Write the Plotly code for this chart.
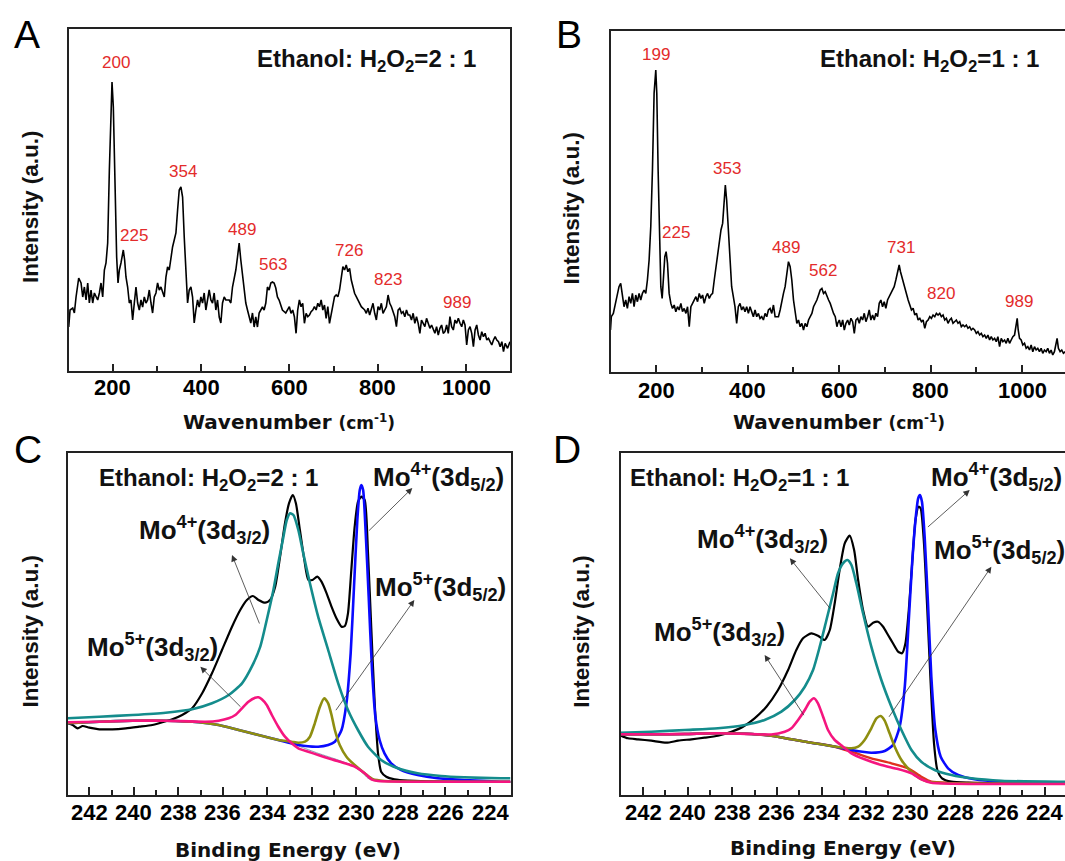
import plotly.graph_objects as go

W, H = 1065, 861

# ---------------- Raman spectra (wavenumber cm-1, intensity a.u.) ----------------
raman_a = [
    (100.5, 44), (103.5, 61), (109.6, 63), (113.3, 58), (117.1, 74), (123.1, 93), (128.4, 88), (132.2, 74),
    (135.9, 84), (139.7, 71), (143.5, 88), (147.2, 68), (151.0, 81), (154.8, 68), (158.6, 78), (162.3, 74),
    (166.1, 71), (169.9, 78), (173.6, 88), (177.4, 74), (181.2, 101), (184.9, 108), (188.7, 128), (192.5, 201),
    (196.2, 268), (198.5, 289), (201.5, 264), (205.3, 184), (209.0, 114), (212.1, 88), (215.1, 101), (218.8, 108),
    (224.1, 121), (227.1, 111), (230.1, 94), (233.9, 84), (237.7, 68), (241.4, 71), (245.2, 51), (249.0, 68),
    (252.8, 84), (256.5, 68), (260.3, 61), (264.1, 71), (267.8, 64), (271.6, 74), (275.4, 68), (279.1, 71),
    (282.9, 81), (286.7, 68), (290.4, 58), (294.2, 74), (298.0, 78), (301.7, 88), (305.5, 81), (309.3, 84),
    (313.0, 78), (316.8, 74), (320.6, 94), (324.3, 104), (328.1, 101), (331.9, 114), (335.6, 124), (339.4, 131),
    (343.2, 138), (347.0, 161), (350.7, 181), (354.5, 184), (358.3, 174), (362.0, 134), (365.8, 94), (369.6, 68),
    (373.3, 81), (377.1, 84), (380.9, 74), (384.6, 48), (388.4, 61), (392.2, 71), (395.9, 64), (399.7, 74),
    (403.5, 68), (407.2, 78), (411.0, 61), (414.8, 74), (418.5, 81), (422.3, 71), (426.1, 68), (429.8, 78),
    (433.6, 61), (437.4, 71), (441.2, 54), (444.9, 48), (448.7, 68), (452.5, 74), (456.2, 71), (463.8, 71),
    (467.5, 68), (471.3, 84), (475.1, 91), (478.8, 101), (482.6, 114), (486.4, 128), (490.1, 111), (493.9, 94),
    (497.7, 81), (501.4, 68), (505.2, 61), (509.0, 54), (512.7, 48), (516.5, 58), (520.3, 44), (524.0, 54),
    (527.8, 44), (531.6, 58), (535.4, 61), (539.1, 64), (542.9, 61), (546.7, 68), (550.4, 84), (554.2, 81),
    (558.0, 88), (561.7, 89), (565.5, 88), (569.3, 83), (573.0, 74), (576.8, 71), (584.3, 61), (591.9, 58),
    (600.0, 64.3), (603.8, 57.7), (607.6, 61), (611.4, 54.3), (615.2, 37.7), (618.9, 61), (622.7, 71), (626.5, 64.3),
    (630.3, 67.7), (634.1, 47.7), (637.9, 57.7), (641.7, 54.3), (645.5, 56), (649.2, 59.3), (653.0, 61), (656.8, 64.3),
    (660.6, 61), (664.4, 67.7), (668.2, 64.3), (672.0, 71), (675.8, 61), (679.5, 66), (683.3, 52.7), (687.1, 64.3),
    (690.9, 47.7), (694.7, 57.7), (698.5, 64.3), (702.3, 74.3), (706.1, 76), (709.8, 74.3), (713.6, 81), (717.4, 96),
    (721.2, 104.3), (725.0, 101), (728.8, 106), (732.6, 99.3), (736.4, 102.7), (740.2, 91), (743.9, 84.3), (747.7, 77.7),
    (751.5, 74.3), (755.3, 71), (759.1, 67.7), (762.9, 64.3), (766.7, 62.7), (770.5, 61), (774.2, 57.7), (778.0, 62.7),
    (781.8, 56), (785.6, 61), (789.4, 67.7), (793.2, 57.7), (797.0, 51), (800.8, 64.3), (804.5, 61), (808.3, 67.7),
    (812.1, 57.7), (815.9, 61), (819.7, 64.3), (823.5, 76), (827.3, 67.7), (831.1, 64.3), (834.9, 57.7), (838.6, 54.3),
    (842.4, 44.3), (846.2, 61), (850.0, 62.7), (853.8, 57.7), (857.6, 59.3), (861.4, 54.3), (865.2, 61), (868.9, 56),
    (872.7, 56), (876.5, 51), (880.3, 57.7), (884.1, 47.7), (887.9, 54.3), (891.7, 47.7), (895.5, 37.7), (899.2, 51),
    (903.0, 47.7), (906.8, 44.3), (910.6, 52.7), (914.4, 47.7), (918.2, 42.7), (922.0, 46), (925.8, 41), (929.5, 37.7),
    (933.3, 44.3), (937.1, 36), (940.9, 42.7), (944.7, 46), (948.5, 37.7), (952.3, 39.3), (956.1, 46), (959.8, 37.7),
    (963.6, 54.3), (967.4, 44.3), (971.2, 41), (975.0, 51), (978.8, 47.7), (982.6, 52.7), (986.4, 47.7), (990.2, 44.3),
    (993.9, 51), (997.7, 46), (1001.5, 26), (1005.3, 41), (1009.1, 44.3), (1012.9, 37.7), (1016.7, 24.3), (1020.5, 41),
    (1024.2, 46), (1028.0, 36), (1031.8, 31), (1035.6, 39.3), (1039.4, 34.3), (1043.2, 37.7), (1047.0, 31), (1050.8, 32.7),
    (1054.5, 29.3), (1058.3, 26), (1062.1, 31), (1065.9, 34.3), (1069.7, 31), (1073.5, 29.3), (1077.3, 24.3), (1081.1, 29.3),
    (1084.8, 19.3), (1088.6, 27.7), (1094.0, 22.7), (1099.5, 29.3),
]

raman_b = [
    (100.0, 41.7), (101.8, 55), (106.2, 58.3), (111.3, 68.3), (115.0, 78.3), (118.6, 85), (122.3, 88.3), (125.9, 78.3),
    (129.6, 65), (133.3, 71.7), (136.9, 63.3), (140.6, 75), (144.2, 68.3), (147.9, 78.3), (151.5, 65), (155.2, 76.7),
    (158.8, 70), (162.5, 78.3), (166.1, 71.7), (169.8, 78.3), (173.4, 81.7), (177.1, 78.3), (180.7, 91.7), (184.4, 111.7),
    (188.0, 145), (191.7, 201.7), (195.3, 278.3), (199.0, 301.7), (201.2, 278.3), (204.1, 201.7), (207.0, 128.3), (210.0, 85),
    (212.9, 73.3), (215.8, 98.3), (218.7, 115), (221.6, 120), (224.6, 108.3), (228.2, 78.3), (231.9, 68.3), (235.5, 63.3),
    (239.2, 66.7), (242.8, 60), (246.5, 65), (250.1, 61.7), (253.8, 68.3), (257.4, 60), (261.1, 63.3), (264.8, 58.3),
    (268.4, 65), (272.1, 45), (275.7, 65), (279.4, 68.3), (283.0, 71.7), (286.7, 75), (290.3, 70), (294.0, 78.3),
    (297.6, 73.3), (301.3, 76.7), (304.9, 68.3), (308.6, 75), (312.2, 78.3), (315.9, 73.3), (319.5, 76.7), (323.2, 78.3),
    (326.8, 91.7), (330.5, 105), (334.1, 115), (337.8, 131.7), (341.5, 141.7), (345.1, 148.3), (348.8, 168.3), (351.0, 186.7),
    (353.9, 171.7), (357.5, 138.3), (361.2, 105), (364.8, 85), (368.5, 75), (372.1, 65), (375.8, 48.3), (379.4, 65),
    (383.1, 68.3), (386.7, 61.7), (390.4, 65), (394.0, 60), (397.7, 65), (401.4, 58.3), (405.0, 65), (408.7, 60),
    (412.3, 55), (416.0, 61.7), (419.6, 55), (423.3, 58.3), (426.9, 53.3), (430.6, 55), (434.2, 51.7), (437.9, 58.3),
    (441.5, 55), (445.2, 61.7), (448.8, 63.3), (452.5, 58.3), (456.2, 66.7), (459.8, 55), (463.5, 55), (467.1, 55),
    (470.8, 61.7), (474.4, 71.7), (478.1, 78.3), (481.7, 85), (485.4, 98.3), (489.0, 110), (492.7, 105), (496.3, 91.7),
    (500.0, 71.7), (503.6, 58.3), (507.3, 48.3), (510.9, 51.7), (514.6, 45), (518.2, 48.3), (521.9, 41.7), (525.5, 48.3),
    (529.2, 45), (532.9, 51.7), (536.5, 55), (540.2, 58.3), (543.8, 65), (547.5, 68.3), (551.1, 71.7), (554.8, 76.7),
    (558.4, 81.7), (562.1, 83.3), (565.7, 78.3), (569.4, 80), (573.0, 75), (576.7, 71.7), (580.3, 68.3), (584.0, 61.7),
    (587.6, 58.3), (591.3, 55), (594.9, 45),
    (596.6, 48.4), (600.2, 51.7), (603.8, 45), (607.5, 51.7), (611.1, 41.7), (614.7, 48.4), (618.4, 51.7), (622.0, 46.7),
    (625.6, 53.4), (629.3, 50), (632.9, 38.4), (636.5, 51.7), (640.2, 53.4), (643.8, 48.4), (647.4, 55), (651.1, 51.7),
    (654.7, 58.4), (658.3, 50), (662.0, 55), (665.6, 61.7), (669.2, 51.7), (672.9, 56.7), (676.5, 51.7), (680.1, 58.4),
    (683.8, 55), (687.4, 68.4), (691.0, 71.7), (694.7, 65), (698.3, 70), (701.9, 63.4), (705.6, 71.7), (709.2, 75),
    (712.8, 76.7), (716.5, 81.7), (720.1, 85), (723.7, 91.7), (727.4, 98.4), (731.0, 106.7), (733.9, 100), (736.8, 95),
    (739.7, 90), (743.4, 81.7), (747.0, 75), (750.6, 71.7), (754.3, 66.7), (757.9, 61.7), (761.5, 63.4), (765.2, 56.7),
    (768.8, 58.4), (772.4, 51.7), (776.1, 53.4), (779.7, 50), (783.3, 51.7), (787.0, 43.4), (790.6, 50), (794.2, 51.7),
    (797.9, 55), (801.5, 53.4), (805.1, 56.7), (808.8, 55), (812.4, 58.4), (816.0, 56.7), (819.7, 58.4), (823.3, 55),
    (826.9, 56.7), (830.6, 51.7), (834.2, 53.4), (837.8, 48.4), (841.5, 51.7), (845.1, 53.4), (848.7, 48.4), (852.4, 50),
    (856.0, 51.7), (859.6, 48.4), (863.3, 50), (866.9, 45), (870.5, 46.7), (874.2, 45), (877.8, 46.7), (881.4, 43.4),
    (885.1, 45), (888.7, 41.7), (892.3, 43.4), (896.0, 41.7), (899.6, 38.4), (903.2, 40), (906.9, 36.7), (910.5, 38.4),
    (914.1, 35), (917.8, 36.7), (921.4, 33.4), (925.0, 36.7), (928.7, 31.7), (932.3, 35), (935.9, 31.7), (939.6, 33.4),
    (943.2, 30), (946.8, 35), (950.5, 25), (954.1, 33.4), (957.7, 30), (961.4, 31.7), (965.0, 28.4), (968.6, 33.4),
    (972.3, 28.4), (975.9, 31.7), (979.5, 35), (983.2, 36.7), (986.8, 45), (989.0, 53.4), (991.2, 41.7), (994.1, 33.4),
    (997.7, 31.7), (1001.3, 26.7), (1005.0, 28.4), (1008.6, 23.4), (1012.2, 25), (1015.9, 21.7), (1019.5, 26.7), (1023.1, 20),
    (1026.8, 25), (1030.4, 21.7), (1034.0, 23.4), (1037.7, 20), (1041.3, 23.4), (1044.9, 18.4), (1048.6, 21.7), (1052.2, 20),
    (1055.8, 23.4), (1059.5, 18.4), (1063.1, 21.7), (1066.7, 16.7), (1070.4, 20), (1074.0, 26.7), (1076.2, 33.4), (1079.1, 23.4),
    (1082.8, 20), (1086.4, 21.7), (1090.0, 18.4), (1094.0, 20),
]

peaks_a = ["200", "225", "354", "489", "563", "726", "823", "989"]
peak_text_pos_a = [(207.4, 308.7), (247.2, 135.3), (359.0, 200.0), (493.7, 141.7),
                   (563.4, 106.7), (734.8, 121.0), (822.9, 91.7), (979.0, 68.3)]
peaks_b = ["199", "225", "353", "489", "562", "731", "820", "989"]
peak_text_pos_b = [(200.0, 317.7), (243.0, 139.0), (355.0, 203.0), (483.3, 124.4),
                   (565.2, 101.7), (735.3, 123.9), (823.4, 78.4), (991.9, 70.0)]

raman_ticks = [200, 400, 600, 800, 1000]
xps_ticks = [242, 240, 238, 236, 234, 232, 230, 228, 226, 224]

# ---------------- XPS Mo 3d (binding energy eV, intensity a.u.) ----------------
c_envelope = [
    (242.97, 71.7), (242.75, 70.0), (242.52, 66.7), (242.30, 69.0), (242.0, 67.3), (241.55, 65.7), (240.96, 65.7),
    (240.36, 66.7), (239.76, 68.3), (239.17, 70.0), (238.72, 72.7), (238.27, 75.7), (237.83, 80.0), (237.38, 86.7),
    (236.93, 101.7), (236.49, 121.7), (236.04, 145.0), (235.59, 168.3), (235.22, 185.0), (234.92, 195.0),
    (234.65, 199.0), (234.40, 195.0), (234.10, 192.3), (233.88, 195.0), (233.65, 208.3), (233.43, 238.3),
    (233.21, 271.7), (233.03, 291.7), (232.86, 300.0), (232.72, 291.7), (232.54, 265.0), (232.34, 235.0),
    (232.16, 215.0), (231.98, 215.0), (231.76, 218.3), (231.57, 213.3), (231.34, 201.7), (231.12, 188.3),
    (230.90, 176.7), (230.67, 168.3), (230.52, 169.0), (230.38, 181.7), (230.23, 225.0), (230.08, 268.3),
    (229.93, 293.3), (229.78, 298.3), (229.63, 295.0), (229.48, 241.7), (229.33, 165.0), (229.18, 91.7),
    (229.03, 41.7), (228.89, 23.3), (228.66, 18.3), (228.29, 15.7), (227.69, 14.3), (226.65, 13.7),
    (225.16, 13.3), (223.52, 13.0), (223.08, 13.0),
]
c_mo4_52 = [
    (242.97, 71.7), (241.55, 73.3), (240.06, 74.3), (238.57, 74.3), (237.08, 72.7), (236.19, 70.0), (235.29, 65.0),
    (234.40, 60.0), (233.51, 55.0), (232.61, 50.0), (231.72, 48.3), (231.27, 50.0), (230.97, 53.3), (230.67, 65.0),
    (230.45, 91.7), (230.26, 141.7), (230.11, 208.3), (229.96, 275.0), (229.85, 305.0), (229.78, 310.0),
    (229.70, 305.0), (229.59, 265.0), (229.45, 198.3), (229.30, 125.0), (229.15, 78.3), (228.96, 55.0),
    (228.74, 41.7), (228.44, 31.7), (227.99, 25.0), (227.25, 20.0), (226.35, 16.7), (225.16, 15.0),
    (223.52, 13.3), (223.08, 13.3),
]
c_mo4_32 = [
    (242.97, 76.7), (241.55, 78.3), (240.06, 80.0), (238.57, 82.3), (237.38, 85.7), (236.49, 91.7), (235.74, 100.0),
    (235.14, 111.7), (234.70, 128.3), (234.32, 148.3), (234.03, 175.0), (233.73, 205.0), (233.51, 231.7),
    (233.28, 258.3), (233.13, 275.0), (232.98, 281.7), (232.83, 280.0), (232.61, 265.0), (232.39, 241.7),
    (232.09, 211.7), (231.72, 178.3), (231.27, 145.0), (230.82, 111.7), (230.38, 85.0), (229.93, 65.0),
    (229.48, 48.3), (228.89, 35.0), (228.14, 26.7), (227.25, 21.7), (226.20, 19.0), (225.16, 17.7),
    (223.52, 16.7), (223.08, 16.7),
]
c_mo5_52 = [
    (242.97, 71.7), (241.55, 73.3), (240.06, 74.3), (238.57, 74.3), (237.08, 72.7), (236.19, 70.0), (235.29, 65.0),
    (234.40, 60.0), (233.51, 55.0), (232.91, 53.3), (232.61, 52.3), (232.31, 53.3), (232.09, 58.3), (231.87, 71.7),
    (231.64, 88.3), (231.45, 96.7), (231.27, 91.7), (231.12, 80.0), (230.97, 65.0), (230.75, 50.0), (230.45, 38.3),
    (230.08, 30.0), (229.63, 21.7), (229.26, 15.7), (228.74, 14.0), (223.52, 13.3), (223.08, 13.3),
]
c_mo5_32 = [
    (242.97, 72.7), (241.55, 73.3), (240.06, 74.3), (238.57, 74.3), (236.78, 73.3), (236.19, 74.3), (235.74, 76.7),
    (235.44, 80.0), (235.14, 86.7), (234.85, 93.3), (234.55, 97.3), (234.40, 97.7), (234.25, 95.7), (234.03, 90.0),
    (233.80, 80.0), (233.51, 68.3), (233.21, 58.3), (232.91, 51.7), (232.61, 46.7), (232.16, 43.3), (231.72, 40.0),
    (231.12, 35.7), (230.52, 31.7), (230.08, 28.3), (229.63, 21.7), (229.33, 15.7), (229.03, 14.0), (223.52, 13.3),
    (223.08, 13.3),
]
c_background = [
    (242.97, 71.7), (241.55, 73.3), (240.06, 74.3), (238.57, 74.3), (237.08, 72.7), (236.19, 70.0), (235.29, 65.0),
    (234.40, 60.0), (233.51, 55.0), (232.61, 49.0), (231.72, 41.7), (230.82, 35.0), (230.23, 30.0), (229.78, 23.3),
    (229.48, 16.7), (229.18, 14.3), (228.14, 14.0), (223.52, 13.3),
]

d_envelope = [
    (243.05, 60.0), (242.67, 56.7), (242.22, 55.7), (241.63, 54.3), (240.95, 52.3), (240.43, 54.3), (239.83, 55.7),
    (239.24, 57.3), (238.64, 59.3), (238.04, 63.3), (237.52, 68.3), (237.00, 76.7), (236.47, 88.3), (235.95, 105.0),
    (235.50, 125.0), (235.13, 145.0), (234.83, 156.7), (234.46, 161.7), (234.16, 159.3), (233.86, 155.0),
    (233.63, 165.0), (233.41, 191.7), (233.19, 225.0), (232.96, 251.7), (232.74, 259.3), (232.54, 245.0),
    (232.36, 215.0), (232.14, 185.0), (231.92, 168.3), (231.69, 172.3), (231.47, 173.3), (231.24, 168.3),
    (231.02, 160.0), (230.80, 151.7), (230.57, 143.3), (230.39, 141.7), (230.24, 151.7), (230.09, 185.0),
    (229.94, 231.7), (229.79, 275.0), (229.65, 288.3), (229.56, 286.7), (229.41, 251.7), (229.26, 185.0),
    (229.11, 111.7), (228.96, 51.7), (228.81, 25.0), (228.60, 16.7), (228.18, 13.3), (227.43, 12.3),
    (225.94, 11.7), (223.40, 11.7), (223.09, 11.7),
]
d_mo4_52 = [
    (243.05, 60.7), (241.63, 60.7), (240.13, 61.0), (238.64, 61.7), (237.14, 61.0), (236.25, 59.3), (235.35, 55.7),
    (234.46, 52.3), (233.56, 49.0), (232.66, 45.0), (231.77, 42.3), (231.17, 44.0), (230.80, 50.0), (230.50, 68.3),
    (230.27, 108.3), (230.09, 175.0), (229.94, 231.7), (229.79, 275.0), (229.67, 296.7), (229.59, 300.0),
    (229.50, 293.3), (229.38, 258.3), (229.23, 191.7), (229.08, 118.3), (228.90, 65.0), (228.66, 38.3),
    (228.33, 26.7), (227.88, 20.0), (227.14, 15.7), (225.94, 13.3), (223.40, 12.3), (223.09, 12.3),
]
d_mo4_32 = [
    (243.05, 62.3), (241.63, 63.3), (240.13, 65.0), (238.64, 66.7), (237.44, 70.0), (236.55, 75.0), (235.80, 83.3),
    (235.20, 95.0), (234.75, 108.3), (234.38, 125.0), (234.08, 148.3), (233.78, 175.0), (233.48, 201.7),
    (233.26, 221.7), (233.04, 231.7), (232.84, 235.0), (232.66, 230.0), (232.44, 211.7), (232.14, 181.7),
    (231.77, 148.3), (231.32, 115.0), (230.87, 88.3), (230.42, 65.0), (229.97, 45.0), (229.53, 33.3),
    (228.93, 25.0), (228.18, 20.0), (227.29, 16.7), (225.94, 14.3), (223.40, 13.3), (223.09, 13.3),
]
d_mo5_52 = [
    (243.05, 60.7), (241.63, 60.7), (240.13, 61.0), (238.64, 61.7), (237.14, 61.0), (236.25, 59.3), (235.35, 55.7),
    (234.46, 52.3), (233.56, 49.0), (232.66, 46.7), (232.36, 48.3), (232.07, 55.0), (231.77, 66.7), (231.54, 76.7),
    (231.35, 79.0), (231.17, 74.3), (230.95, 61.7), (230.72, 48.3), (230.42, 35.0), (230.05, 25.0), (229.60, 16.7),
    (229.08, 12.7), (223.40, 11.7), (223.09, 11.7),
]
d_mo5_32 = [
    (243.05, 60.7), (241.63, 60.7), (240.13, 61.0), (238.64, 61.7), (237.14, 61.0), (236.25, 60.5), (235.65, 63.3),
    (235.35, 66.7), (235.05, 75.0), (234.75, 85.0), (234.53, 93.3), (234.34, 96.7), (234.16, 91.7), (233.93, 78.3),
    (233.71, 65.0), (233.41, 55.0), (233.04, 48.3), (232.66, 41.7), (232.07, 35.7), (231.32, 30.0), (230.57, 26.0),
    (229.97, 21.7), (229.53, 15.7), (229.08, 12.3), (223.40, 11.0), (223.09, 11.0),
]
d_background = [
    (243.05, 60.7), (241.63, 60.7), (240.13, 61.0), (238.64, 61.7), (237.14, 61.0), (236.25, 59.3), (235.35, 55.7),
    (234.46, 52.3), (233.56, 49.0), (232.66, 43.3), (231.77, 36.7), (230.87, 31.7), (230.12, 26.7), (229.53, 18.3),
    (229.08, 13.3), (228.18, 12.3), (223.40, 11.7),
]

ratio_text = {"A": "2 : 1", "B": "1 : 1", "C": "2 : 1", "D": "1 : 1"}

# ---------------- styling ----------------
FRAME = "#222222"
RED = "#e32b2b"
BLUE = "#0a0aff"
TEAL = "#148c8c"
OLIVE = "#8e8e10"
PINK = "#f5157f"
BGLINE = "#7f9fb0"
BGRED = "#e0301e"
ARIAL = "Liberation Sans, Arial, sans-serif"
WIDE = "DejaVu Sans, Verdana, sans-serif"


def fx(px):
    return px / W


def fy(py):
    return 1 - py / H


fig = go.Figure()


def add_line(data, xa, ya, color, width, shape="linear", smoothing=None):
    line = dict(color=color, width=width, shape=shape)
    if smoothing is not None:
        line["smoothing"] = smoothing
    fig.add_trace(go.Scatter(x=[p[0] for p in data], y=[p[1] for p in data], mode="lines",
                             line=line, xaxis=xa, yaxis=ya, hoverinfo="skip", showlegend=False))


add_line(raman_a, "x", "y", "#000000", 1.6)
add_line(raman_b, "x2", "y2", "#000000", 1.6)

S = 0.6
add_line(c_background, "x3", "y3", BGLINE, 1.0, "spline", S)
add_line(c_envelope, "x3", "y3", "#000000", 2.2, "spline", S)
add_line(c_mo4_52, "x3", "y3", BLUE, 2.6, "spline", S)
add_line(c_mo5_52, "x3", "y3", OLIVE, 2.6, "spline", S)
add_line(c_mo4_32, "x3", "y3", TEAL, 2.6, "spline", S)
add_line(c_mo5_32, "x3", "y3", PINK, 2.6, "spline", S)

add_line(d_background, "x4", "y4", BGRED, 2.4, "spline", S)
add_line(d_envelope, "x4", "y4", "#000000", 2.2, "spline", S)
add_line(d_mo4_52, "x4", "y4", BLUE, 2.6, "spline", S)
add_line(d_mo5_52, "x4", "y4", OLIVE, 2.6, "spline", S)
add_line(d_mo4_32, "x4", "y4", TEAL, 2.6, "spline", S)
add_line(d_mo5_32, "x4", "y4", PINK, 2.6, "spline", S)


def xaxis(dom, rng, ticks, mdtick, tlen, mlen, anchor):
    return dict(domain=[fx(dom[0]), fx(dom[1])], range=rng, anchor=anchor,
                showline=True, linecolor=FRAME, linewidth=1.6, mirror=True,
                ticks="inside", ticklen=tlen, tickwidth=1.5, tickcolor=FRAME,
                tickmode="array", tickvals=ticks, showticklabels=False,
                minor=dict(tick0=0, dtick=mdtick, ticks="inside", ticklen=mlen, tickwidth=1.5, tickcolor=FRAME),
                showgrid=False, zeroline=False, fixedrange=True)


def yaxis(dom, rng, anchor, mirror):
    return dict(domain=[fy(dom[1]), fy(dom[0])], range=rng, anchor=anchor,
                showline=True, linecolor=FRAME, linewidth=1.6, mirror=mirror,
                ticks="", showticklabels=False, showgrid=False, zeroline=False, fixedrange=True)


layout = dict(
    width=W, height=H, autosize=False,
    margin=dict(l=0, r=0, t=0, b=0, pad=0),
    paper_bgcolor="white", plot_bgcolor="white", showlegend=False,
    xaxis=xaxis((68.5, 510.2), [100, 1100], raman_ticks, 100, 7, 5, "y"),
    yaxis=yaxis((29.3, 371.0), [0, 341.7], "x", True),
    xaxis2=xaxis((610.5, 1065), [100, 1093.5], raman_ticks, 100, 7, 5, "y2"),
    yaxis2=yaxis((31.0, 371.7), [0, 340.7], "x2", False),
    xaxis3=xaxis((67.7, 510.5), [242.97, 223.08], xps_ticks, 1, 8, 5, "y3"),
    yaxis3=yaxis((453.3, 795.0), [0, 341.7], "x3", True),
    xaxis4=xaxis((620.7, 1065), [243.0, 223.09], xps_ticks, 1, 8, 5, "y4"),
    yaxis4=yaxis((453.3, 795.0), [0, 341.7], "x4", False),
)
fig.update_layout(**layout)

ann = []


def text_px(x, y, text, size, family=ARIAL, bold=True, color="#111111", angle=0):
    ann.append(dict(x=fx(x), y=fy(y), xref="paper", yref="paper", text=text, showarrow=False,
                    xanchor="center", yanchor="middle", textangle=angle,
                    font=dict(family=family, size=size, color=color, weight="bold" if bold else "normal")))


# tick labels, placed through each x axis scale
for ticks, xr, ypx in [(raman_ticks, "x", 387.7), (raman_ticks, "x2", 390.0),
                       (xps_ticks, "x3", 812.7), (xps_ticks, "x4", 812.7)]:
    for t in ticks:
        ann.append(dict(x=t, y=fy(ypx), xref=xr, yref="paper", text="<b>%d</b>" % t, showarrow=False,
                        xanchor="center", yanchor="middle",
                        font=dict(family=ARIAL, size=22, color="#000000", weight="bold")))

# panel letters
for letter, (x, y) in zip(["A", "B", "C", "D"], [(27, 34), (569, 34), (28, 449), (567, 449)]):
    text_px(x, y, letter, 39, bold=False, color="#000000")

# ratio labels
eth = "Ethanol: H<sub>2</sub>O<sub>2</sub>={}"
for key, (x, y) in zip(["A", "B", "C", "D"], [(366.8, 61), (929.2, 61), (208.4, 479.5), (739.7, 479.5)]):
    text_px(x, y, eth.format(ratio_text[key]), 24)

# axis titles
for (x, y) in [(30.4, 206.7), (571.0, 208.5), (30.4, 631.0), (581.2, 631.5)]:
    text_px(x, y, "Intensity (a.u.)", 22.5, angle=-90)
wav = "Wavenumber <span style='font-size:17px'>(cm<sup>-1</sup>)</span>"
text_px(289.0, 421.5, wav, 20, family=WIDE)
text_px(838.8, 421.5, wav, 20, family=WIDE)
text_px(288.2, 850.0, "Binding Energy (eV)", 20, family=WIDE)
text_px(843.0, 848.0, "Binding Energy (eV)", 20, family=WIDE)

# peak labels
for labs, pos, xr, yr in [(peaks_a, peak_text_pos_a, "x", "y"), (peaks_b, peak_text_pos_b, "x2", "y2")]:
    for t, (x, y) in zip(labs, pos):
        ann.append(dict(x=x, y=y, xref=xr, yref=yr, text=t, showarrow=False,
                        xanchor="center", yanchor="middle",
                        font=dict(family=ARIAL, size=17, color=RED)))

# component labels
mo_labels = {
    "m4_52": "Mo<sup>4+</sup>(3d<sub>5/2</sub>)",
    "m4_32": "Mo<sup>4+</sup>(3d<sub>3/2</sub>)",
    "m5_52": "Mo<sup>5+</sup>(3d<sub>5/2</sub>)",
    "m5_32": "Mo<sup>5+</sup>(3d<sub>3/2</sub>)",
}
c_label_px = {"m4_52": (438.6, 477.3), "m4_32": (204.9, 530.0), "m5_52": (440.3, 586.7), "m5_32": (152.6, 646.7)}
d_label_px = {"m4_52": (996.5, 477.0), "m4_32": (762.0, 539.0), "m5_52": (999.7, 550.0), "m5_32": (719.3, 631.7)}
for lp in (c_label_px, d_label_px):
    for k, (x, y) in lp.items():
        text_px(x, y, mo_labels[k], 26)

# pointer arrows (head, tail) in data coordinates
c_arrows = [((227.49, 307.0), (229.50, 263.0)), ((235.59, 240.0), (234.33, 170.0)),
            ((227.40, 195.0), (230.97, 83.3)), ((237.01, 128.3), (235.14, 86.7))]
d_arrows = [((227.36, 305.0), (229.30, 266.7)), ((235.42, 236.7), (233.56, 185.0)),
            ((226.39, 228.3), (231.02, 76.7)), ((236.55, 140.0), (234.75, 78.3))]
for arrows, xr, yr in [(c_arrows, "x3", "y3"), (d_arrows, "x4", "y4")]:
    for (hx, hy), (tx, ty) in arrows:
        ann.append(dict(x=hx, y=hy, ax=tx, ay=ty, xref=xr, yref=yr, axref=xr, ayref=yr,
                        text="", showarrow=True, arrowhead=2, arrowsize=1.6, arrowwidth=0.8,
                        arrowcolor="#333333", standoff=0, startstandoff=0))

fig.update_layout(annotations=ann)
fig.write_html("out.html", config={"displayModeBar": False},
               post_script="document.body.style.margin='0px';document.body.style.overflow='hidden';")
